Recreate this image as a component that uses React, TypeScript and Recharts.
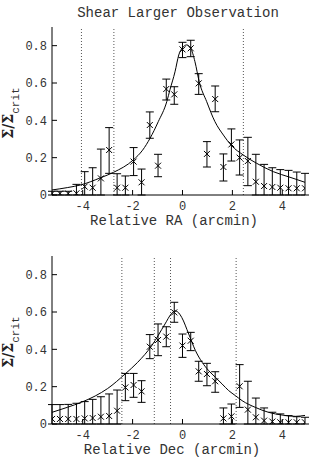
import {
  ComposedChart,
  ErrorBar,
  Line,
  ReferenceLine,
  Scatter,
  XAxis,
  YAxis,
} from "recharts";

// sample positions (arcmin), shared by both cuts
const offsets = [
  -5.23, -4.91, -4.58, -4.25, -3.92, -3.6, -3.27, -2.94, -2.62, -2.29, -1.96,
  -1.64, -1.31, -0.98, -0.65, -0.33, 0, 0.33, 0.65, 0.98, 1.31, 1.64, 1.96,
  2.29, 2.62, 2.94, 3.27, 3.6, 3.92, 4.25, 4.58, 4.91,
];

// RA cut
const raValue = [
  0.008, 0.008, 0.008, 0.009, 0.045, 0.039, 0.089, 0.241, 0.039, 0.039, 0.179,
  0.068, 0.375, 0.157, 0.568, 0.539, 0.78, 0.786, 0.598, 0.22, 0.514, 0.15,
  0.271, 0.2, 0.182, 0.071, 0.048, 0.043, 0.039, 0.036, 0.036, 0.036,
];
const raLow = [
  0, 0, 0, 0, 0, 0, 0, 0.116, 0, 0, 0.104, 0, 0.304, 0.098, 0.509, 0.486,
  0.736, 0.741, 0.539, 0.15, 0.446, 0.075, 0.182, 0.107, 0.05, 0, 0, 0, 0, 0,
  0, 0,
];
const raHigh = [
  0.02, 0.02, 0.02, 0.057, 0.125, 0.146, 0.246, 0.361, 0.114, 0.102, 0.254,
  0.139, 0.445, 0.218, 0.621, 0.58, 0.818, 0.829, 0.65, 0.286, 0.584, 0.22,
  0.354, 0.295, 0.309, 0.218, 0.164, 0.146, 0.136, 0.132, 0.123, 0.116,
];
const raModelX = [
  -5.23, -4.6, -4.08, -3.27, -2.77, -1.97, -1.6, -1.3, -0.97, -0.63, -0.5,
  -0.3, -0.15, 0, 0.17, 0.33, 0.5, 0.67, 0.97, 1.3, 1.64, 1.97, 2.44, 2.97,
  3.64, 4.31, 4.91,
];
const raModelY = [
  0.027, 0.04, 0.054, 0.093, 0.121, 0.188, 0.24, 0.304, 0.393, 0.5, 0.565,
  0.66, 0.75, 0.789, 0.804, 0.786, 0.714, 0.607, 0.5, 0.393, 0.321, 0.264,
  0.214, 0.17, 0.125, 0.095, 0.068,
];
const raMarks = [-4.05, -2.75, 2.44];

// Dec cut
const decValue = [
  0.027, 0.027, 0.027, 0.027, 0.03, 0.032, 0.039, 0.043, 0.071, 0.196, 0.209,
  0.175, 0.414, 0.45, 0.468, 0.598, 0.42, 0.446, 0.282, 0.268, 0.229, 0.03,
  0.041, 0.202, 0.077, 0.036, 0.018, 0.013, 0.009, 0.009, 0.009, 0.009,
];
const decLow = [
  0, 0, 0, 0, 0, 0, 0, 0, 0, 0.125, 0.143, 0.116, 0.35, 0.366, 0.414, 0.545,
  0.357, 0.393, 0.229, 0.205, 0.17, 0, 0, 0.089, 0, 0, 0, 0, 0, 0, 0, 0,
];
const decHigh = [
  0.104, 0.104, 0.105, 0.111, 0.12, 0.132, 0.146, 0.161, 0.182, 0.271, 0.271,
  0.232, 0.479, 0.536, 0.521, 0.652, 0.482, 0.491, 0.336, 0.325, 0.28, 0.086,
  0.107, 0.318, 0.229, 0.139, 0.086, 0.063, 0.054, 0.045, 0.039, 0.036,
];
const decModelX = [
  -5.23, -4.6, -4.06, -3.5, -3.0, -2.3, -1.8, -1.23, -0.7, -0.45, -0.3, -0.15,
  -0.03, 0.25, 0.52, 0.79, 1.05, 1.32, 1.59, 1.85, 2.12, 2.39, 2.92, 3.45,
  3.99, 4.52, 4.91,
];
const decModelY = [
  0.0625, 0.09, 0.116, 0.15, 0.19, 0.268, 0.33, 0.42, 0.536, 0.59, 0.606,
  0.595, 0.571, 0.482, 0.393, 0.33, 0.286, 0.25, 0.214, 0.179, 0.152, 0.125,
  0.089, 0.0625, 0.048, 0.041, 0.046,
];
const decMarks = [-2.43, -1.13, -0.48, 2.15];

const xTicks = [-4, -2, 0, 2, 4];
const yTicks = [0, 0.2, 0.4, 0.6, 0.8];

const MONO = "'Liberation Mono', 'DejaVu Sans Mono', monospace";
const TEXT = "#333";
const tick = { fontSize: 12, fontFamily: MONO, fill: TEXT };
const blank = () => "";

function points(value: number[], low: number[], high: number[]) {
  return offsets.map((x, i) => ({
    x,
    y: value[i],
    err: [value[i] - low[i], high[i] - value[i]],
  }));
}

function curve(xs: number[], ys: number[]) {
  return xs.map((x, i) => ({ x, y: ys[i] }));
}

function Cross(props: any) {
  const { cx, cy } = props;
  if (cx == null || cy == null) return null;
  const s = 3;
  return (
    <path
      d={`M${cx - s},${cy - s}L${cx + s},${cy + s}M${cx - s},${cy + s}L${cx + s},${cy - s}`}
      stroke="#000"
      strokeWidth={1}
      fill="none"
    />
  );
}

type PanelProps = {
  top: number;
  data: Array<{ x: number; y: number; err: number[] }>;
  model: Array<{ x: number; y: number }>;
  marks: number[];
};

function Panel({ top, data, model, marks }: PanelProps) {
  return (
    <div style={{ position: "absolute", left: 0, top }}>
      <ComposedChart
        width={316}
        height={215}
        margin={{ top: 27, right: 11, bottom: 0, left: 0 }}
      >
        <XAxis
          xAxisId="b"
          dataKey="x"
          type="number"
          domain={[-5.23, 4.91]}
          allowDataOverflow
          ticks={xTicks}
          interval={0}
          height={20}
          tickSize={-5}
          tickMargin={11}
          stroke="#000"
          tick={tick}
        />
        <XAxis
          xAxisId="t"
          orientation="top"
          type="number"
          domain={[-5.23, 4.91]}
          allowDataOverflow
          ticks={xTicks}
          interval={0}
          height={0}
          tickSize={-5}
          stroke="#000"
          tickFormatter={blank}
        />
        <YAxis
          yAxisId="l"
          dataKey="y"
          type="number"
          domain={[0, 0.9]}
          allowDataOverflow
          ticks={yTicks}
          interval={0}
          width={52}
          tickSize={-5}
          tickMargin={10}
          stroke="#000"
          tick={tick}
        />
        <YAxis
          yAxisId="r"
          orientation="right"
          type="number"
          domain={[0, 0.9]}
          allowDataOverflow
          ticks={yTicks}
          interval={0}
          width={0}
          tickSize={-5}
          stroke="#000"
          tickFormatter={blank}
        />
        {marks.map((m) => (
          <ReferenceLine
            key={m}
            xAxisId="b"
            yAxisId="l"
            x={m}
            stroke="#555"
            strokeDasharray="1 2"
          />
        ))}
        <Line
          xAxisId="b"
          yAxisId="l"
          data={model}
          dataKey="y"
          type="monotone"
          stroke="#000"
          strokeWidth={1}
          dot={false}
          isAnimationActive={false}
        />
        <Scatter
          xAxisId="b"
          yAxisId="l"
          data={data}
          dataKey="y"
          shape={Cross}
          isAnimationActive={false}
        >
          <ErrorBar
            dataKey="err"
            direction="y"
            width={4}
            stroke="#000"
            strokeWidth={1}
            isAnimationActive={false}
          />
        </Scatter>
      </ComposedChart>
    </div>
  );
}

function YLabel({ cy }: { cy: number }) {
  return (
    <text
      transform={`translate(13,${cy}) rotate(-90)`}
      textAnchor="middle"
      fill="#222"
    >
      <tspan fontFamily="'DejaVu Serif', serif" fontSize={14} fontWeight="bold">
        Σ/Σ
      </tspan>
      <tspan fontFamily={MONO} fontSize={11} dy={6} fill={TEXT}>
        crit
      </tspan>
    </text>
  );
}

export default function App() {
  return (
    <div
      style={{
        position: "absolute",
        left: 0,
        top: 0,
        width: 316,
        height: 458,
        background: "#fff",
      }}
    >
      <Panel
        top={0}
        data={points(raValue, raLow, raHigh)}
        model={curve(raModelX, raModelY)}
        marks={raMarks}
      />
      <Panel
        top={229}
        data={points(decValue, decLow, decHigh)}
        model={curve(decModelX, decModelY)}
        marks={decMarks}
      />
      <svg
        width={316}
        height={458}
        style={{ position: "absolute", left: 0, top: 0, pointerEvents: "none" }}
      >
        <text
          x={178}
          y={17}
          textAnchor="middle"
          fontFamily={MONO}
          fontSize={14}
          fill={TEXT}
        >
          Shear Larger Observation
        </text>
        <YLabel cy={113} />
        <YLabel cy={342} />
        <text
          x={174}
          y={225}
          textAnchor="middle"
          fontFamily={MONO}
          fontSize={14}
          fill={TEXT}
        >
          Relative RA (arcmin)
        </text>
        <text
          x={172}
          y={454}
          textAnchor="middle"
          fontFamily={MONO}
          fontSize={14}
          fill={TEXT}
        >
          Relative Dec (arcmin)
        </text>
      </svg>
    </div>
  );
}
